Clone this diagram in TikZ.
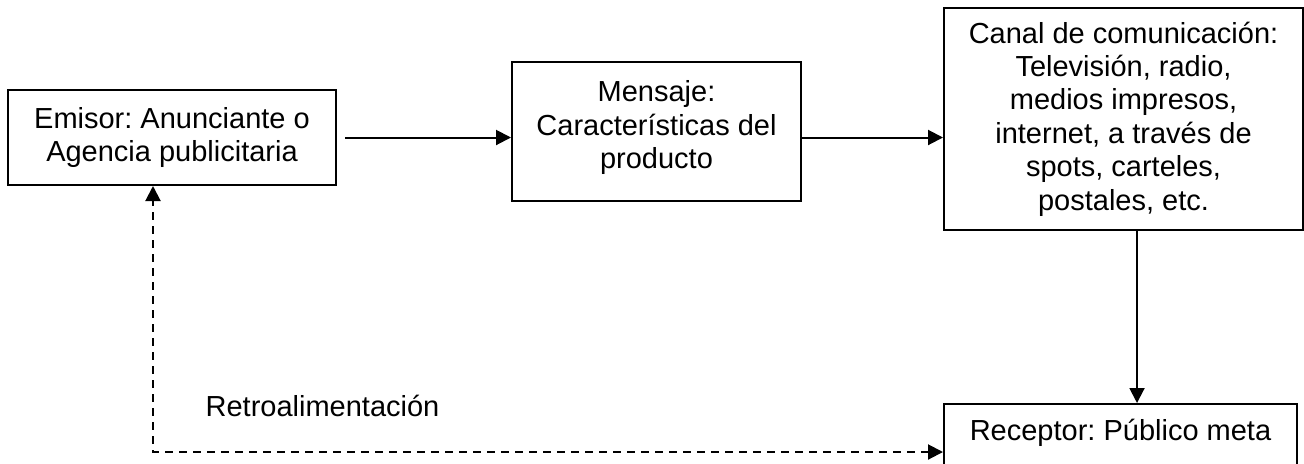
\documentclass[tikz,border=0pt]{standalone}
\usepackage{fontspec}
\setmainfont{Liberation Sans}
\usepackage{tikz}
\usetikzlibrary{arrows.meta, positioning, calc}
\frenchspacing

\begin{document}
\begin{tikzpicture}[x=0.5pt, y=0.5pt, line width=1pt,
    >={Triangle[length=7.5pt,width=7.5pt]},
    every node/.style={font=\fontsize{14.5}{16.7}\selectfont},
    caja/.style={draw, align=center, inner sep=0pt},
    retroflecha/.style={<->, dash pattern=on 4pt off 3pt}]
    \useasboundingbox (0,0) rectangle (1304,463);
    \node[caja,minimum width=164pt,minimum height=47.5pt] (emisor) at (172,325.5) {Emisor: Anunciante o\\Agencia publicitaria};
    \node[caja,minimum width=144.5pt,minimum height=69.5pt,text depth=7pt] (mensaje) at (656.5,331.5) {Mensaje:\\Características del\\producto};
    \node[caja,minimum width=179.5pt,minimum height=111pt] (canal) at (1123.5,344) {Canal de comunicación:\\Televisión, radio,\\medios impresos,\\internet, a través de\\spots, carteles,\\postales, etc.};
    \node[caja,minimum width=176.5pt,minimum height=40pt,text depth=14pt,anchor=north] (receptor) at (1120.5,60) {Receptor: Público meta};
    \node[anchor=west] (retro) at (198,57) {Retroalimentación};
    \draw[->,shorten <=4pt] (emisor.east) -- (emisor.east -| mensaje.west);
    \draw[->] (emisor.east -| mensaje.east) -- (emisor.east -| canal.west);
    \draw[->] ([xshift=6.75pt]canal.south) -- ([xshift=6.75pt]canal.south |- receptor.north);
    \draw[retroflecha] ([yshift=-4pt]receptor.west) -| ([xshift=-9.5pt]emisor.south);
\end{tikzpicture}
\end{document}
